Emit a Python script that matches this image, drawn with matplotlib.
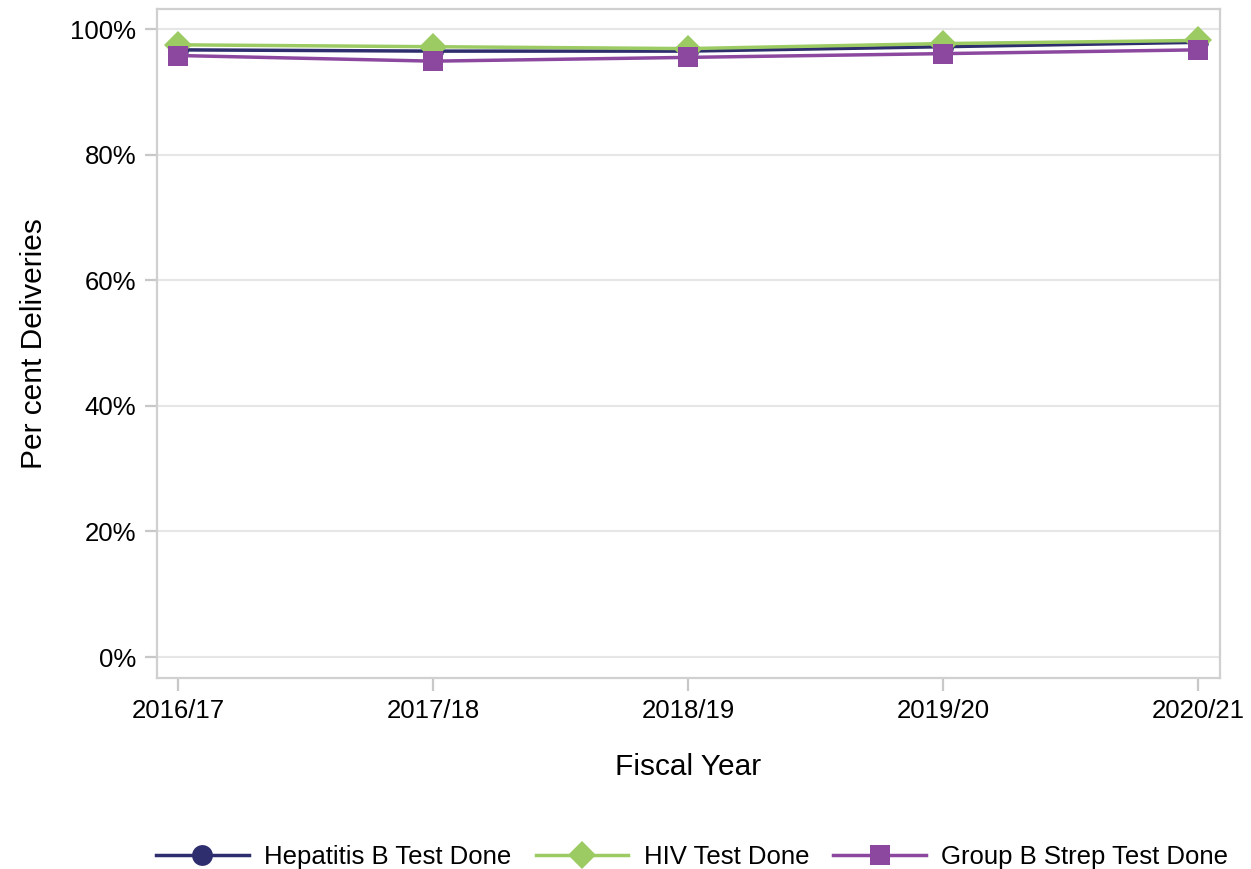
import matplotlib
matplotlib.use("Agg")
import matplotlib.pyplot as plt
from matplotlib.ticker import PercentFormatter

plt.rcParams['font.family'] = ['Liberation Sans', 'DejaVu Sans']

# --- data ---
years = ['2016/17', '2017/18', '2018/19', '2019/20', '2020/21']
hep_b = [96.7, 96.5, 96.5, 97.2, 97.9]
hiv = [97.5, 97.2, 96.9, 97.7, 98.2]
gbs = [95.8, 94.9, 95.5, 96.1, 96.7]

series = [
    ('Hepatitis B Test Done', hep_b, '#2e2d6e', 'o', 15),
    ('HIV Test Done', hiv, '#9bcb62', 'D', 14),
    ('Group B Strep Test Done', gbs, '#8c489e', 's', 14),
]

fig = plt.figure(figsize=(12.51, 8.69), dpi=100)
ax = fig.add_axes([0.1255, 0.2198, 0.8497, 0.7698])

x = list(range(len(years)))
for name, vals, col, mk, ms in series:
    ax.plot(x, vals, color=col, linewidth=2.5, marker=mk, markersize=ms,
            markeredgewidth=0, label=name, zorder=3)

ax.set_xlim(-0.082, 4.086)
ax.set_ylim(-3.34, 103.2)
ax.set_xticks(x)
ax.set_xticklabels(years)
ax.set_yticks([0, 20, 40, 60, 80, 100])
ax.yaxis.set_major_formatter(PercentFormatter(decimals=0))
ax.grid(axis='y', color='#e6e6e6', linewidth=1.5, zorder=0)
ax.set_axisbelow(True)

for sp in ax.spines.values():
    sp.set_color('#d0d0d0')
    sp.set_linewidth(1.6)

ax.tick_params(axis='both', labelsize=18.5, color='#c8c8c8', width=1.6,
               length=9, pad=6)

ax.set_xlabel('Fiscal Year', fontsize=21.5, labelpad=22)
ax.set_ylabel('Per cent Deliveries', fontsize=21.5, labelpad=16)

ax.legend(loc='center', bbox_to_anchor=(0.5035, -0.268), ncol=3, frameon=False,
          fontsize=18.5, handlelength=3.6, numpoints=1, columnspacing=0.95,
          handletextpad=0.6)

fig.savefig('out.png', dpi=100)
